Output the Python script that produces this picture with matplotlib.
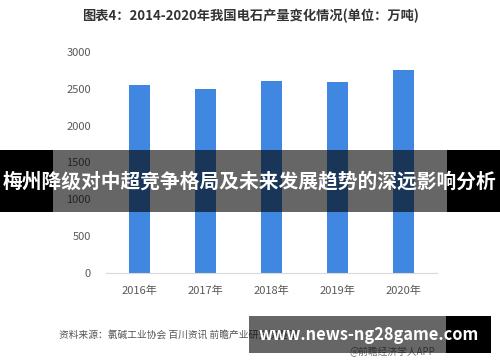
import matplotlib
matplotlib.use("Agg")
import matplotlib.pyplot as plt
from matplotlib.patches import Rectangle

plt.rcParams['font.family'] = ['Noto Sans CJK SC', 'DejaVu Sans']

years = ['2016年', '2017年', '2018年', '2019年', '2020年']
output = [2552, 2491, 2606, 2586, 2762]
yticks = [0, 500, 1000, 1500, 2000, 2500, 3000]

title = '图表4：2014-2020年我国电石产量变化情况(单位：万吨)'
banner = '梅州降级对中超竞争格局及未来发展趋势的深远影响分析'
source = '资料来源：氯碱工业协会 百川资讯 前瞻产业研究院整理'
site = 'www.news-ng28game.com'

W, H = 500, 362
fig = plt.figure(figsize=(5.0, 3.62), dpi=100)
fig.patch.set_facecolor('white')

ax = fig.add_axes([106 / W, 1 - 273 / H, (437 - 106) / W, (273 - 52) / H])
x = range(len(years))
ax.bar(x, output, width=0.32, color='#3f87e0')
ax.set_xlim(-0.5, len(years) - 0.5)
ax.set_ylim(0, 3000)
ax.set_yticks(yticks)
ax.set_yticklabels([str(v) for v in yticks])
ax.set_xticks(list(x))
ax.set_xticklabels(years)
ax.tick_params(length=0, labelsize=8, colors='#595959')
ax.tick_params(axis='y', pad=11)
ax.tick_params(axis='x', pad=9)
for s in ['top', 'right', 'left']:
    ax.spines[s].set_visible(False)
ax.spines['bottom'].set_color('#d9d9d9')

fig.text(0.5, 1 - 16 / H, title, ha='center', va='center',
         fontsize=9.5, fontweight='bold', color='#333333')
fig.text(59 / W, 1 - 335 / H, source, ha='left', va='center',
         fontsize=7, color='#555555')
fig.text(350 / W, 1 - 352 / H, '@前瞻经济学人APP', ha='left', va='center',
         fontsize=7, color='#777777')

# banner overlay
def box(x0, y0, x1, y1, alpha):
    fig.patches.append(Rectangle((x0 / W, 1 - y1 / H), (x1 - x0) / W, (y1 - y0) / H,
                                 transform=fig.transFigure, facecolor='black',
                                 edgecolor='none', alpha=alpha, zorder=10))

box(0, 150, 53, 212, 1.0)
box(53, 150, 447, 212, 0.6)
box(447, 150, 500, 212, 1.0)
fig.text(0.5, 1 - 181 / H, banner, ha='center', va='center', fontsize=14.2,
         fontweight='bold', color='white', zorder=11)

box(249, 316, 446, 353, 0.6)
box(446, 316, 491, 353, 1.0)
fig.text(369 / W, 1 - 335 / H, site, ha='center', va='center', fontsize=11.8,
         fontweight='bold', color='white', zorder=11)

fig.savefig('out.png', dpi=100)
